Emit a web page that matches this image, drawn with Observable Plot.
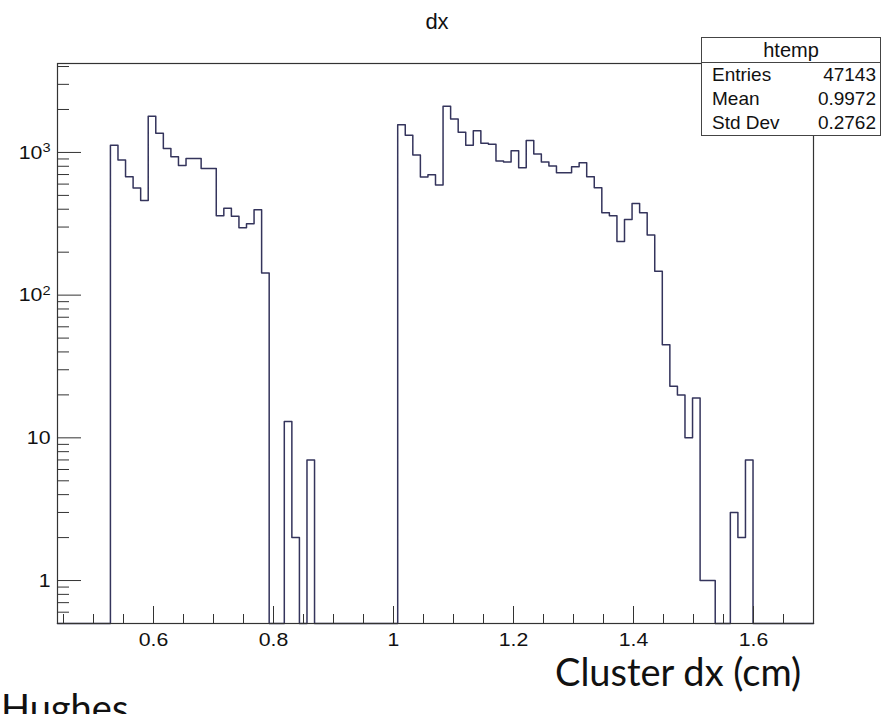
<!DOCTYPE html>
<html>
<head>
<meta charset="utf-8">
<script src="https://cdn.jsdelivr.net/npm/d3@7"></script>
<script src="https://cdn.jsdelivr.net/npm/@observablehq/plot@0.6"></script>
<style>
  html, body { margin: 0; padding: 0; background: #fff; }
  #wrap { position: relative; width: 895px; height: 714px; overflow: hidden; font-family: "Liberation Sans", Arial, sans-serif; color: #111; }
  #chart { position: absolute; left: 0; top: 0; }
  .ov { position: absolute; white-space: nowrap; line-height: 1; }
  #title { left: 0; width: 874px; top: 11px; text-align: center; font-size: 22px; }
  #stats { left: 701px; top: 37px; width: 178px; border: 1px solid #444; background: #fff; font-size: 19px; }
  #stats .hdr { text-align: center; border-bottom: 1px solid #444; height: 24px; line-height: 24px; font-size: 20px; }
  #stats .row { display: flex; justify-content: space-between; padding: 0 4px 0 10px; height: 24px; line-height: 24px; }
  .big { font-family: Lato, "Open Sans", sans-serif; font-size: 38px; color: #111; }
  #xlab { left: 555px; top: 652px; }
  #author { left: 1px; top: 688px; }
</style>
</head>
<body>
<div id="wrap">
  <div id="chart"></div>
</div>
<script>
// ---- Data ----
const title = "dx";
const xAxisTitle = "Cluster dx (cm)";
const author = "Hughes";
const histName = "htemp";
const statLabels = ["Entries", "Mean", "Std Dev"];
const statValues = ["47143", "0.9972", "0.2762"];

// Histogram binning (ROOT auto-binning of htemp)
const xMin = 0.44;
const xMax = 1.70;
const nBins = 100;

// Bin contents, bins 0..99 (0 = empty)
const binCounts = [
  0, 0, 0, 0, 0, 0, 0, 1125, 884, 676,
  564, 460, 1790, 1362, 1064, 932, 811, 907, 907, 772,
  772, 360, 406, 357, 297, 317, 396, 143, 0, 0,
  13, 2, 0, 7, 0, 0, 0, 0, 0, 0,
  0, 0, 0, 0, 0, 1564, 1320, 958, 673, 698,
  591, 2103, 1714, 1385, 1125, 1421, 1161, 1143, 870, 856,
  1026, 781, 1211, 977, 858, 802, 721, 721, 794, 846,
  676, 566, 378, 360, 238, 339, 438, 378, 264, 147,
  45, 23, 20, 10, 19, 1, 1, 0, 0, 3,
  2, 7, 0, 0, 0, 0, 0, 0, 0, 0
];

const yDomain = [0.5, 4200];
const yMajorTicks = [1, 10, 100, 1000];
const yTickBase = ["1", "10", "10", "10"];
const yTickExp = ["", "", "2", "3"];
const yMinorTicks = [0.5, 0.6, 0.7, 0.8, 0.9,
  2, 3, 4, 5, 6, 7, 8, 9,
  20, 30, 40, 50, 60, 70, 80, 90,
  200, 300, 400, 500, 600, 700, 800, 900,
  2000, 3000, 4000];
const xMajorTicks = [0.6, 0.8, 1.0, 1.2, 1.4, 1.6];
const xTickLabels = ["0.6", "0.8", "1", "1.2", "1.4", "1.6"];
const xMinorTicks = [0.45, 0.5, 0.55, 0.65, 0.7, 0.75, 0.85, 0.9, 0.95,
  1.05, 1.1, 1.15, 1.25, 1.3, 1.35, 1.45, 1.5, 1.55, 1.65];

// ---- Build ----
const W = 895, H = 714;
const mL = 57, mR = 82, mT = 63, mB = 91;
const plotW = W - mL - mR, plotH = H - mT - mB;
const binW = (xMax - xMin) / nBins;
const steps = d3.range(nBins + 1).map(i => ({
  x: xMin + i * binW,
  c: binCounts[Math.min(i, nBins - 1)]
}));
const lineColor = "#34345c";
const axisColor = "#333";

const chart = Plot.plot({
  width: W,
  height: H,
  marginLeft: mL,
  marginRight: mR,
  marginTop: mT,
  marginBottom: mB,
  style: { fontFamily: "'Liberation Sans', Arial, sans-serif", fontSize: "19px", color: "#111", background: "#fff" },
  x: { domain: [xMin, xMax], axis: null },
  y: { type: "log", domain: yDomain, axis: null },
  marks: [
    Plot.line(steps, {
      x: "x",
      y: d => (d.c > 0 ? d.c : yDomain[0]),
      curve: "step-after",
      stroke: lineColor,
      strokeWidth: 1.5
    }),
    Plot.frame({ stroke: axisColor, strokeWidth: 1.2 }),
    Plot.tickY(yMajorTicks, { y: d => d, stroke: axisColor, insetRight: plotW - 24 }),
    Plot.tickY(yMinorTicks, { y: d => d, stroke: axisColor, insetRight: plotW - 12 }),
    Plot.tickX(xMajorTicks, { x: d => d, stroke: axisColor, insetTop: plotH - 17 }),
    Plot.tickX(xMinorTicks, { x: d => d, stroke: axisColor, insetTop: plotH - 9 }),
    Plot.axisY({
      ticks: yMajorTicks,
      tickSize: 0,
      tickPadding: 7,
      fontSize: 19,
      tickFormat: d => yTickBase[yMajorTicks.indexOf(d)] + "^" + yTickExp[yMajorTicks.indexOf(d)],
      label: null
    }),
    Plot.axisX({
      ticks: xMajorTicks,
      tickSize: 0,
      tickPadding: 9,
      fontSize: 19,
      tickFormat: d => xTickLabels[xMajorTicks.findIndex(t => Math.abs(t - d) < 1e-9)],
      label: null
    })
  ]
});
document.getElementById("chart").appendChild(chart);

// Turn "10^3" into 10 with a real superscript
const svgNS = "http://www.w3.org/2000/svg";
chart.querySelectorAll("text").forEach(t => {
  const s = t.textContent;
  if (s.includes("^")) {
    const [base, exp] = s.split("^");
    t.textContent = "";
    const b = document.createElementNS(svgNS, "tspan");
    b.textContent = base;
    t.appendChild(b);
    if (exp) {
      const e = document.createElementNS(svgNS, "tspan");
      e.textContent = exp;
      e.setAttribute("font-size", "13");
      e.setAttribute("dy", "-0.5em");
      t.appendChild(e);
    }
  }
});

// Slight horizontal stretch of tick labels (as in the reference rendering)
chart.querySelectorAll("text").forEach(t => {
  const len = t.getComputedTextLength();
  if (len > 0) {
    t.setAttribute("textLength", (len * 1.12).toFixed(1));
    t.setAttribute("lengthAdjust", "spacingAndGlyphs");
  }
});

const wrap = document.getElementById("wrap");
function addDiv(id, cls, text) {
  const el = document.createElement("div");
  el.id = id;
  el.className = cls;
  if (text != null) el.textContent = text;
  wrap.appendChild(el);
  return el;
}
addDiv("title", "ov", title);
const stats = addDiv("stats", "ov", null);
const hdr = document.createElement("div");
hdr.className = "hdr";
hdr.textContent = histName;
stats.appendChild(hdr);
statLabels.forEach((lab, i) => {
  const r = document.createElement("div");
  r.className = "row";
  const a = document.createElement("span"); a.textContent = lab;
  const b = document.createElement("span"); b.textContent = statValues[i];
  r.appendChild(a); r.appendChild(b);
  stats.appendChild(r);
});
addDiv("xlab", "ov big", xAxisTitle);
addDiv("author", "ov big", author);
</script>
</body>
</html>
